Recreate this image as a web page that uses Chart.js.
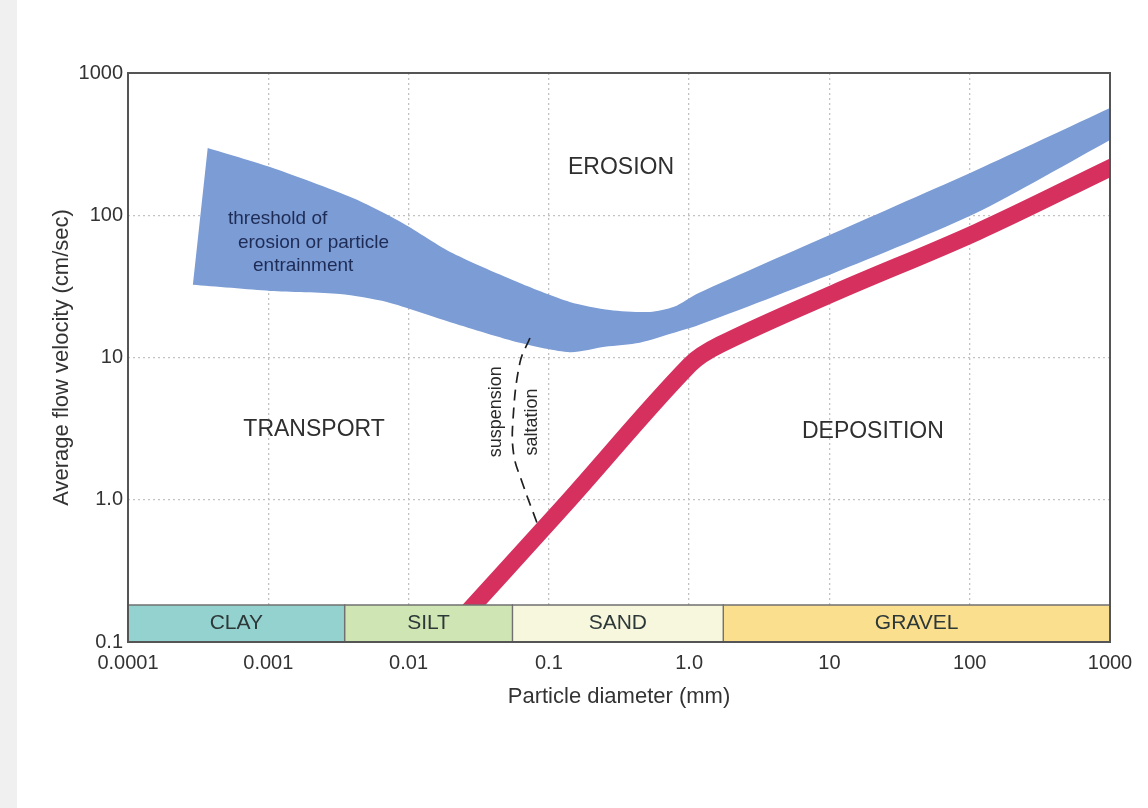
<!DOCTYPE html>
<html>
<head>
<meta charset="utf-8">
<title>Hjulstrom diagram</title>
<script src="https://cdn.jsdelivr.net/npm/chart.js@4.4.1/dist/chart.umd.min.js"></script>
<style>
    html, body { margin: 0; padding: 0; }
    body {
        width: 1148px;
        height: 808px;
        overflow: hidden;
        background: linear-gradient(to right, #f0f0f0 0, #f0f0f0 17px, #ffffff 17px);
    }
    canvas { display: block; }
</style>
</head>
<body>
<canvas id="hjulstrom-chart" width="1148" height="808"></canvas>
<script>
// axis ticks
const xTicks = [0.0001, 0.001, 0.01, 0.1, 1, 10, 100, 1000];
const xTickLabels = ['0.0001', '0.001', '0.01', '0.1', '1.0', '10', '100', '1000'];
const yTicks = [0.1, 1, 10, 100, 1000];
const yTickLabels = ['0.1', '1.0', '10', '100', '1000'];

// erosion threshold band (upper edge left->right, lower edge right->left)
const erosionUpperX = [0.00037, 0.00103, 0.0040, 0.0091, 0.0207, 0.062, 0.141, 0.272, 0.526, 0.78, 1.17, 10.8, 112, 1000];
const erosionUpperY = [297, 218, 132, 88, 54, 33.4, 24.6, 21.6, 20.9, 22.7, 28.4, 75, 208, 567];
const erosionLowerX = [1000, 112, 10.8, 1.17, 0.78, 0.445, 0.251, 0.141, 0.062, 0.0207, 0.0070, 0.00324, 0.00103, 0.00029];
const erosionLowerY = [338, 104, 39.3, 16.9, 14.9, 12.7, 11.9, 10.9, 12.7, 17.5, 24.6, 28, 29.4, 32.4];

// deposition curve
const depositionX = [0.0168, 0.130, 1.01, 1.66, 10.8, 112, 1000];
const depositionY = [0.1, 0.92, 8.87, 12.3, 28.4, 76, 215];

// suspension / saltation boundary
const suspensionX = [0.0733, 0.0622, 0.0555, 0.0562, 0.0643, 0.0822];
const suspensionY = [13.7, 9.2, 3.64, 2.07, 1.34, 0.69];

// grain size classes
const grainClasses = ['CLAY', 'SILT', 'SAND', 'GRAVEL'];
const grainLimits = [0.0001, 0.0035, 0.055, 1.75, 1000];
const grainBarTop = 0.182;
const grainColors = ['#93d2cf', '#cfe5b3', '#f7f7dd', '#fadf8e'];

// text labels in data units
const regionLabels = ['EROSION', 'TRANSPORT', 'DEPOSITION'];
const regionLabelX = [0.327, 0.00212, 20.4];
const regionLabelY = [215, 3.1, 3.0];
const thresholdLines = ['threshold of', 'erosion or particle', 'entrainment'];
const thresholdX = [0.000516, 0.000608, 0.000778];
const thresholdY = [94, 63.9, 44];
const boundaryLabels = ['suspension', 'saltation'];
const boundaryX = [0.042, 0.0759];
const boundaryY = [4.15, 3.52];

function toPoints(xs, ys) {
    return xs.map((x, i) => ({ x: x, y: ys[i] }));
}

const fontFamily = "'Liberation Sans', Arial, Helvetica, sans-serif";

document.addEventListener('DOMContentLoaded', function() {
    const canvas_element = document.getElementById('hjulstrom-chart');
    const ctx = canvas_element.getContext('2d');
    if (!ctx) {
        return;
    }

    Chart.defaults.font.family = fontFamily;

    const grainDatasets = grainClasses.map((name, i) => {
        const x0 = grainLimits[i];
        const x1 = grainLimits[i + 1];
        return {
            label: name,
            data: [
                { x: x0, y: 0.1 }, { x: x0, y: grainBarTop },
                { x: x1, y: grainBarTop }, { x: x1, y: 0.1 }, { x: x0, y: 0.1 }
            ],
            borderColor: '#707070',
            borderWidth: 1.3,
            backgroundColor: grainColors[i],
            fill: 'shape',
            tension: 0,
            pointRadius: 0,
            order: 1
        };
    });

    // repeat the two right-hand corners so the spline keeps the edges straight there
    const upper = toPoints(erosionUpperX, erosionUpperY);
    const lower = toPoints(erosionLowerX, erosionLowerY);
    const bandPoints = upper
        .concat([Object.assign({}, upper[upper.length - 1]), Object.assign({}, lower[0])])
        .concat(lower);

    // frame and text labels
    const labelsPlugin = {
        id: 'hjulstromLabels',
        afterDatasetsDraw(chart) {
            const c = chart.ctx;
            const xs = chart.scales.x;
            const ys = chart.scales.y;
            const area = chart.chartArea;
            c.save();

            c.textBaseline = 'middle';
            c.textAlign = 'center';
            c.fillStyle = '#2f2f2f';
            c.font = '23px ' + fontFamily;
            regionLabels.forEach((t, i) => {
                c.fillText(t, xs.getPixelForValue(regionLabelX[i]), ys.getPixelForValue(regionLabelY[i]));
            });

            c.fillStyle = '#2d3838';
            c.font = '21px ' + fontFamily;
            grainClasses.forEach((t, i) => {
                const mid = Math.sqrt(grainLimits[i] * grainLimits[i + 1]);
                const yMid = Math.sqrt(0.1 * grainBarTop);
                c.fillText(t, xs.getPixelForValue(mid), ys.getPixelForValue(yMid));
            });

            c.textAlign = 'left';
            c.fillStyle = '#1e2b55';
            c.font = '19px ' + fontFamily;
            thresholdLines.forEach((t, i) => {
                c.fillText(t, xs.getPixelForValue(thresholdX[i]), ys.getPixelForValue(thresholdY[i]));
            });

            c.textAlign = 'center';
            c.fillStyle = '#2a2a2a';
            c.font = '18px ' + fontFamily;
            boundaryLabels.forEach((t, i) => {
                c.save();
                c.translate(xs.getPixelForValue(boundaryX[i]), ys.getPixelForValue(boundaryY[i]));
                c.rotate(-Math.PI / 2);
                c.fillText(t, 0, 0);
                c.restore();
            });

            c.strokeStyle = '#555555';
            c.lineWidth = 2;
            c.strokeRect(area.left, area.top, area.right - area.left, area.bottom - area.top);
            c.restore();
        }
    };

    new Chart(ctx, {
        type: 'line',
        data: {
            datasets: grainDatasets.concat([
                {
                    label: 'suspension / saltation',
                    data: toPoints(suspensionX, suspensionY),
                    borderColor: '#1f1f1f',
                    borderWidth: 1.7,
                    borderDash: [11, 7],
                    fill: false,
                    tension: 0.4,
                    pointRadius: 0,
                    order: 2
                },
                {
                    label: 'deposition',
                    data: toPoints(depositionX, depositionY),
                    borderColor: '#d6305f',
                    borderWidth: 17,
                    borderCapStyle: 'square',
                    fill: false,
                    tension: 0.35,
                    pointRadius: 0,
                    clip: 0,
                    order: 3
                },
                {
                    label: 'threshold of erosion',
                    data: bandPoints,
                    borderColor: '#7b9cd4',
                    borderWidth: 0,
                    backgroundColor: '#7b9cd4',
                    fill: 'shape',
                    tension: 0.25,
                    pointRadius: 0,
                    clip: 0,
                    order: 4
                }
            ])
        },
        options: {
            responsive: false,
            animation: false,
            events: [],
            layout: {
                padding: { left: 48, top: 73, right: 38, bottom: 98 }
            },
            plugins: {
                legend: { display: false },
                tooltip: { enabled: false }
            },
            scales: {
                x: {
                    type: 'logarithmic',
                    position: 'bottom',
                    min: 0.0001,
                    max: 1000,
                    afterBuildTicks: function(scale) {
                        scale.ticks = xTicks.map(v => ({ value: v }));
                    },
                    afterFit: function(scale) {
                        scale.height = 68;
                    },
                    ticks: {
                        autoSkip: false,
                        maxRotation: 0,
                        padding: 9,
                        color: '#333333',
                        font: { size: 20 },
                        callback: function(value, index) {
                            return xTickLabels[index];
                        }
                    },
                    grid: {
                        color: '#c2c2c2',
                        lineWidth: 1.3,
                        drawTicks: false
                    },
                    border: { display: false, dash: [2, 3] },
                    title: {
                        display: true,
                        text: 'Particle diameter (mm)',
                        color: '#333333',
                        font: { size: 22 },
                        padding: { top: 0, bottom: 0 }
                    }
                },
                y: {
                    type: 'logarithmic',
                    position: 'left',
                    min: 0.1,
                    max: 1000,
                    afterBuildTicks: function(scale) {
                        scale.ticks = yTicks.map(v => ({ value: v }));
                    },
                    afterFit: function(scale) {
                        scale.width = 80;
                    },
                    ticks: {
                        autoSkip: false,
                        padding: 5,
                        color: '#333333',
                        font: { size: 20 },
                        callback: function(value, index) {
                            return yTickLabels[index];
                        }
                    },
                    grid: {
                        color: '#c2c2c2',
                        lineWidth: 1.3,
                        drawTicks: false
                    },
                    border: { display: false, dash: [2, 3] },
                    title: {
                        display: true,
                        text: 'Average flow velocity (cm/sec)',
                        color: '#333333',
                        font: { size: 22 },
                        padding: { top: 1, bottom: 0 }
                    }
                }
            }
        },
        plugins: [labelsPlugin]
    });
});
</script>
</body>
</html>
